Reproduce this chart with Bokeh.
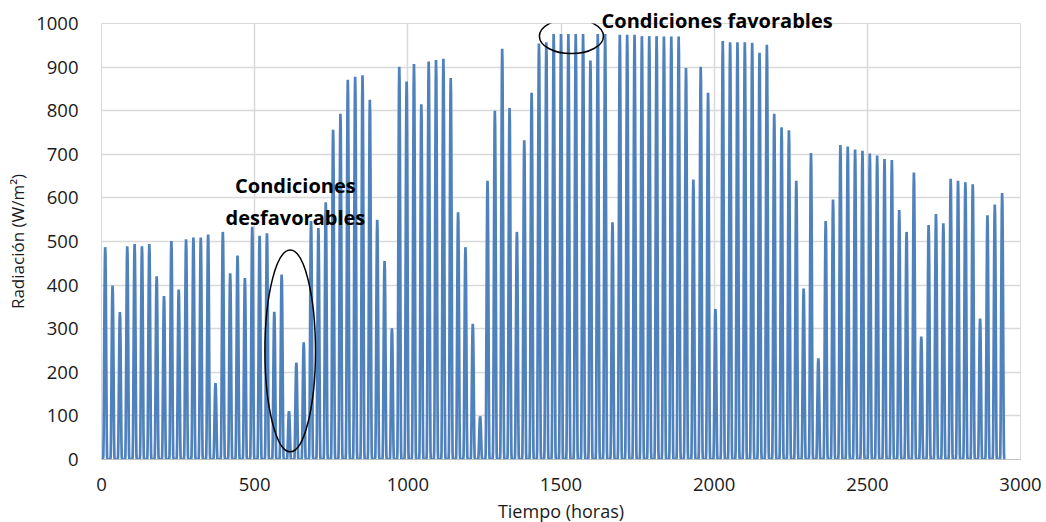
from bokeh.plotting import figure
from bokeh.models import Range1d, FixedTicker, Label, ColumnDataSource
from bokeh.embed import file_html
from bokeh.resources import INLINE

# Daily peak irradiance (W/m2), one value per day
daily_peaks = [
    487, 399, 338, 489, 494, 489, 494, 420, 375, 501,
    390, 505, 509, 509, 516, 175, 522, 427, 468, 416,
    534, 513, 519, 339, 424, 111, 222, 269, 547, 531,
    590, 756, 793, 871, 878, 881, 825, 550, 455, 301,
    901, 867, 907, 815, 913, 916, 919, 875, 567, 487,
    311, 99, 639, 800, 942, 806, 522, 732, 841, 954,
    957, 976, 976, 976, 976, 976, 915, 976, 976, 544,
    974, 974, 974, 971, 971, 971, 970, 970, 970, 898,
    642, 901, 841, 345, 960, 957, 957, 957, 956, 933,
    951, 793, 762, 755, 639, 392, 703, 232, 547, 596,
    721, 718, 711, 708, 702, 697, 689, 687, 572, 522,
    658, 282, 538, 563, 542, 644, 639, 636, 631, 323,
    560, 585, 611,
]
# Relative shape of one day (hour 0..23)
day_profile = [0, 0, 0, 0, 0, 0, 0.02, 0.12, 0.33, 0.56, 0.78, 0.94,
               1.0, 0.96, 0.82, 0.6, 0.36, 0.14, 0.02, 0, 0, 0, 0, 0]

x_ticks = [0, 500, 1000, 1500, 2000, 2500, 3000]
y_ticks = [0, 100, 200, 300, 400, 500, 600, 700, 800, 900, 1000]

# Annotation ellipses (centre x, centre y, width, height in data units)
ell_x = [616, 1534]
ell_y = [249, 971]
ell_w = [165, 209]
ell_h = [463, 80]

hours = []
rad = []
for d, pk in enumerate(daily_peaks):
    for h, f in enumerate(day_profile):
        hours.append(d * 24 + h)
        rad.append(pk * f)

FONT = "Open Sans"
TXT = "#1a1a1a"

p = figure(width=1046, height=522, output_backend="svg", toolbar_location=None,
           x_range=Range1d(0, 3000), y_range=Range1d(0, 1000),
           frame_width=919, frame_height=436,
           min_border_left=101, min_border_right=26, min_border_top=23,
           min_border_bottom=63)
p.background_fill_color = "white"
p.border_fill_color = "white"
p.outline_line_color = "#d9d9d9"

p.line(hours, rad, line_color="#4F81BD", line_width=2.7)

src = ColumnDataSource(dict(x=ell_x, y=ell_y, w=ell_w, h=ell_h))
p.ellipse(x="x", y="y", width="w", height="h", source=src,
          fill_color=None, line_color="black", line_width=1.5)

for txt, x, y in [("Condiciones", 633, 628), ("desfavorables", 633, 555)]:
    p.add_layout(Label(x=x, y=y, text=txt, text_font=FONT, text_font_style="bold",
                       text_font_size="20px", text_color="black",
                       text_align="center", text_baseline="middle"))

# Top annotation placed as the title so that it is not clipped by the frame
p.title.text = "Condiciones favorables"
p.title.text_font = FONT
p.title.text_font_style = "bold"
p.title.text_font_size = "20px"
p.title.text_color = "black"
p.title.align = "left"
p.title.offset = 500
p.title.standoff = -20

p.xaxis.ticker = FixedTicker(ticks=x_ticks)
p.yaxis.ticker = FixedTicker(ticks=y_ticks)
p.xgrid.ticker = FixedTicker(ticks=x_ticks)
p.ygrid.ticker = FixedTicker(ticks=y_ticks)
p.xgrid.grid_line_color = "#d9d9d9"
p.ygrid.grid_line_color = "#d9d9d9"
p.xgrid.grid_line_width = 1.5
p.ygrid.grid_line_width = 1.5

for ax in (p.xaxis[0], p.yaxis[0]):
    ax.major_tick_line_color = None
    ax.minor_tick_line_color = None
    ax.major_label_text_font = FONT
    ax.major_label_text_font_size = "18.5px"
    ax.major_label_text_color = TXT
    ax.axis_label_text_font = FONT
    ax.axis_label_text_font_style = "normal"
    ax.axis_label_text_color = TXT
p.xaxis.axis_label_text_font_size = "18px"
p.yaxis.axis_label_text_font_size = "17px"
p.xaxis.axis_line_color = "#bfbfbf"
p.yaxis.axis_line_color = None
p.xaxis.major_label_standoff = 12
p.yaxis.major_label_standoff = 17
p.xaxis.axis_label = "Tiempo (horas)"
p.yaxis.axis_label = "Radiación (W/m²)"
p.xaxis.axis_label_standoff = 5
p.yaxis.axis_label_standoff = 4

open("out.html", "w").write(file_html(p, INLINE))
